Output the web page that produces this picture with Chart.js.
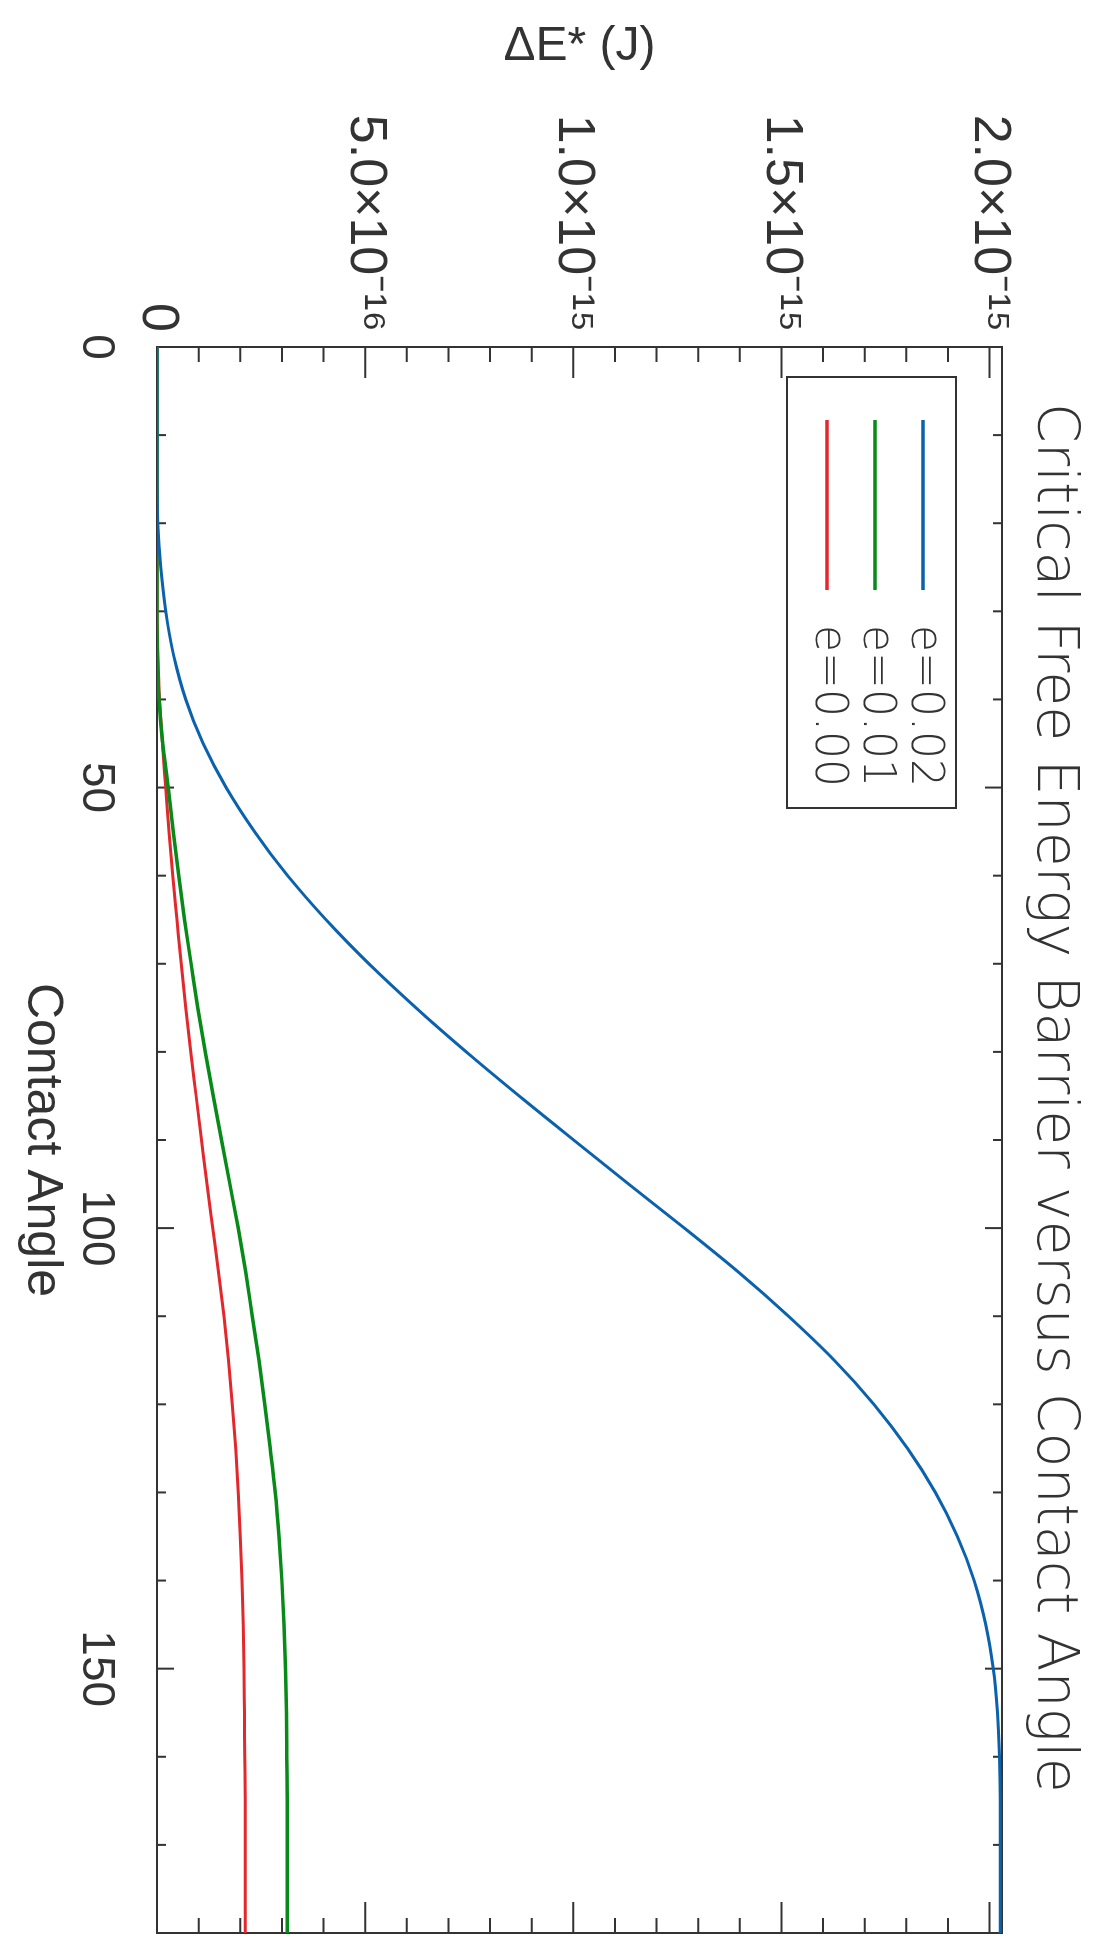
<!DOCTYPE html>
<html>
<head>
<meta charset="utf-8">
<title>Critical Free Energy Barrier versus Contact Angle</title>
<script src="https://cdn.jsdelivr.net/npm/chart.js@4.4.1/dist/chart.umd.min.js"></script>
<style>
  html, body { margin: 0; padding: 0; background: #fff; width: 1094px; height: 1944px; overflow: hidden; }
  /* the plot is drawn landscape and turned a quarter clockwise, like the scanned page */
  #wrap { position: absolute; left: 0; top: 0; width: 1944px; height: 1094px;
          transform-origin: 0 0; transform: translate(1094px, 0) rotate(90deg); }
</style>
</head>
<body>
<div id="wrap"><canvas id="c" width="1944" height="1094"></canvas></div>
<script>
// Contact angle (deg) and critical free energy barrier, in units of 1e-16 J.
const angles = [0, 5, 10, 15, 20, 25, 30, 35, 40, 45, 50, 55, 60, 65, 70, 75, 80, 85, 90,
  95, 100, 105, 110, 115, 120, 125, 130, 135, 140, 145, 150, 155, 160, 165, 170, 175, 180];

const energy002 = [0, 0, 0, 0, 0.02, 0.09, 0.21, 0.40, 0.69, 1.11, 1.66, 2.34, 3.14, 4.06, 5.09, 6.22, 7.43, 8.70, 10.01,
  11.33, 12.67, 13.97, 15.17, 16.27, 17.22, 18.03, 18.70, 19.23, 19.63, 19.91, 20.09, 20.19, 20.24, 20.26, 20.26, 20.26, 20.26];
const energy001 = [0, 0, 0, 0, 0, 0, 0, 0.01, 0.05, 0.14, 0.27, 0.39, 0.52, 0.66, 0.82, 0.98, 1.16, 1.35, 1.55,
  1.75, 1.95, 2.13, 2.29, 2.45, 2.59, 2.72, 2.84, 2.93, 3.00, 3.05, 3.09, 3.11, 3.12, 3.13, 3.13, 3.13, 3.13];
const energy000 = [0, 0, 0, 0, 0, 0, 0, 0.02, 0.06, 0.13, 0.21, 0.29, 0.38, 0.48, 0.58, 0.69, 0.81, 0.94, 1.07,
  1.20, 1.34, 1.48, 1.61, 1.72, 1.81, 1.89, 1.95, 2.00, 2.04, 2.07, 2.09, 2.10, 2.11, 2.12, 2.12, 2.12, 2.12];

const seriesLabels = ["e=0.02", "e=0.01", "e=0.00"];
const seriesColors = ["#0a62ad", "#078a18", "#e2282c"];
const seriesWidths = [3, 3.5, 3];

const xTickLabels = ["0", "50", "100", "150"];
const yTickLabels = ["0", "5.0×10⁻¹⁶", "1.0×10⁻¹⁵", "1.5×10⁻¹⁵", "2.0×10⁻¹⁵"];
const titleText = "Critical Free Energy Barrier versus Contact Angle";

const INK = "#333";
const FONT = "'Liberation Sans', Arial, sans-serif";
const WIDE = "'DejaVu Sans', sans-serif";

const pts = (ys) => angles.map((x, i) => ({ x, y: ys[i] }));

// IDL-style box: frame on all four sides, inward major/minor ticks, boxed legend, title over the box.
const idlFrame = {
  id: "idlFrame",
  beforeDatasetsDraw(chart) {
    const { ctx, chartArea: a, scales: { x, y } } = chart;
    ctx.save();
    ctx.strokeStyle = INK;
    ctx.lineWidth = 2;
    ctx.strokeRect(a.left, a.top, a.right - a.left, a.bottom - a.top);
    ctx.beginPath();
    for (let v = 0; v <= 180; v += 10) {
      const px = x.getPixelForValue(v);
      const len = v % 50 === 0 ? 17 : 9;
      ctx.moveTo(px, a.bottom); ctx.lineTo(px, a.bottom - len);
      ctx.moveTo(px, a.top); ctx.lineTo(px, a.top + len);
    }
    for (let v = 0; v <= 20; v += 1) {
      const py = y.getPixelForValue(v);
      const len = v % 5 === 0 ? 31 : 15;
      ctx.moveTo(a.left, py); ctx.lineTo(a.left + len, py);
      ctx.moveTo(a.right, py); ctx.lineTo(a.right - len, py);
    }
    ctx.stroke();
    ctx.restore();
  },
  afterDraw(chart) {
    const { ctx, chartArea: a } = chart;
    ctx.save();
    ctx.fillStyle = INK;
    ctx.textBaseline = "middle";
    ctx.textAlign = "left";
    ctx.font = `200 57px ${WIDE}`;
    ctx.fillText(titleText, a.left + 56, 41);

    ctx.strokeStyle = INK;
    ctx.lineWidth = 2;
    ctx.strokeRect(a.left + 30, a.top + 46, 431, 169);
    ctx.font = `200 44px ${WIDE}`;
    chart.data.datasets.forEach((ds, i) => {
      const yy = a.top + 79 + i * 48;
      ctx.beginPath();
      ctx.strokeStyle = ds.borderColor;
      ctx.lineWidth = 3.5;
      ctx.moveTo(a.left + 73, yy);
      ctx.lineTo(a.left + 243, yy);
      ctx.stroke();
      ctx.fillText(ds.label, a.left + 278, yy);
    });
    ctx.restore();
  },
};

Chart.defaults.color = INK;
Chart.defaults.font.family = FONT;

const line = (i, ys) => ({
  label: seriesLabels[i],
  data: pts(ys),
  borderColor: seriesColors[i],
  backgroundColor: seriesColors[i],
  borderWidth: seriesWidths[i],
  pointRadius: 0,
  cubicInterpolationMode: "monotone",
});

new Chart(document.getElementById("c"), {
  type: "line",
  data: {
    datasets: [line(0, energy002), line(1, energy001), line(2, energy000)],
  },
  options: {
    responsive: false,
    devicePixelRatio: 1,
    animation: false,
    layout: { padding: { left: 0, right: 11, top: 92, bottom: 0 } },
    plugins: {
      legend: { display: false },
      tooltip: { enabled: false },
      title: { display: false },
    },
    scales: {
      x: {
        type: "linear",
        min: 0,
        max: 180,
        grid: { display: false, drawTicks: false },
        border: { display: false },
        ticks: {
          stepSize: 50,
          includeBounds: false,
          autoSkip: false,
          maxRotation: 0,
          padding: 34,
          font: { size: 46, lineHeight: 1.2 },
          callback: (v, i) => xTickLabels[i],
        },
        title: { display: true, text: "Contact Angle", font: { size: 50, lineHeight: 1.2 }, padding: { top: 0, bottom: 12 } },
        afterFit: (s) => { s.height = 157; },
      },
      y: {
        type: "linear",
        min: 0,
        max: 20.3,
        grid: { display: false, drawTicks: false },
        border: { display: false },
        ticks: {
          stepSize: 5,
          includeBounds: false,
          autoSkip: false,
          padding: 15,
          font: { size: 52, lineHeight: 1.2 },
          callback: (v, i) => yTickLabels[i],
        },
        title: { display: true, text: "ΔE* (J)", font: { size: 48, lineHeight: 1.2 }, padding: { top: 18, bottom: 0 } },
        afterFit: (s) => { s.width = 347; },
      },
    },
  },
  plugins: [idlFrame],
});
</script>
</body>
</html>
